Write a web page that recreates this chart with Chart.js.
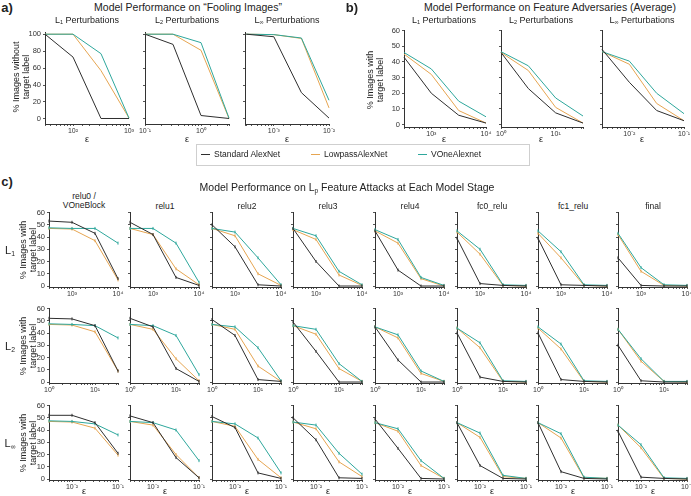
<!DOCTYPE html>
<html>
<head>
<meta charset="utf-8">
<script src="https://cdn.jsdelivr.net/npm/chart.js@4/dist/chart.umd.min.js"></script>
<style>
  body { margin: 0; background: #fff; font-family: "Liberation Sans", Arial, sans-serif; color: #222; }
  #fig { position: relative; width: 691px; height: 496px; overflow: hidden; }
  .t { position: absolute; white-space: nowrap; transform: translate(-50%, -50%); line-height: 1.1; text-align: center; }
  .rot { transform: translate(-50%, -50%) rotate(-90deg); }
  sub { font-size: 62%; vertical-align: -0.25em; line-height: 0; }
  canvas { position: absolute; }
  #legend { position: absolute; left: 196px; top: 144px; width: 332px; height: 20px; border: 1px solid #cfcfcf; }
</style>
</head>
<body>
<div id="fig"><div id="legend"></div></div>
<script>
// epsilon values (x) for each norm
const epsFoolL1 = [31.62, 100, 316.2, 1000];
const epsFoolL2 = [0.1, 0.3162, 1, 3.162];
const epsFoolLinf = [0.0003162, 0.001, 0.003162, 0.01];
const epsAttL1 = [316.2, 1000, 3162, 10000];
const epsAttL2 = [1, 3.162, 10, 31.62];
const epsAttLinf = [0.003162, 0.01, 0.03162, 0.1];

// a) fooling images, one row per norm (L1, L2, Linf)
const foolStandard = [[100, 73, 0.5, 0.5], [100, 88, 4, 0.5], [100, 97, 31, 1]];
const foolLowpass = [[100, 100, 57, 1], [100, 100, 81, 0.5], [100, 99.5, 95, 13]];
const foolVOne = [[100, 100, 77, 1], [100, 100, 90, 1], [100, 99.5, 95.5, 22]];

// b) feature adversaries (average)
const advStandard = [[43, 20, 6, 1], [46, 23, 7.5, 1], [48, 27, 9, 2.5]];
const advLowpass = [[45, 32, 9, 1], [46, 34.5, 11, 1], [46.5, 38.5, 13.5, 2.5]];
const advVOne = [[46, 35.5, 15, 5], [46.5, 37.5, 17, 5.5], [46.5, 40.5, 20, 7]];

// c) per model stage
const stages = ['relu0 /<br>VOneBlock', 'relu1', 'relu2', 'relu3', 'relu4', 'fc0_relu', 'fc1_relu', 'final'];
const c1Standard = [[53, 52, 43, 6], [52, 42, 7, 0.5], [50, 32, 1, 0], [47, 20, 0, 0], [45, 13, 0, 0], [39, 2, 0.5, 0], [39, 1, 0.5, 0], [23, 0.5, 0, 0]];
const c1Lowpass = [[47, 46.5, 37, 5], [47, 42, 14, 1], [47, 41, 10, 0.5], [46, 38, 9, 0.5], [45, 35, 6, 0], [44, 26, 0.5, 0], [43, 23, 0.5, 0], [42, 12, 0.5, 0]];
const c1VOne = [[47.5, 47, 47, 35], [47, 47, 35, 3], [47, 44, 23, 1], [47, 41, 12, 1], [46, 38, 7, 0.5], [45, 30, 1, 0.5], [45, 28, 1, 0.5], [43, 15, 1, 0.5]];
const c2Standard = [[52, 51.5, 46, 9], [52, 45, 11, 0.5], [51, 38, 2, 0.5], [49, 25, 0, 0], [45, 18, 0, 0], [40, 4, 0.5, 0], [40, 2, 0.5, 0], [30, 1, 0, 0]];
const c2Lowpass = [[47, 46.5, 41, 9], [47, 43, 19, 1], [47, 43, 13, 0.5], [46, 39, 11, 0.5], [45, 36, 7, 0.5], [44, 28, 0.5, 0], [44, 27, 0.5, 0], [43, 17, 0.5, 0]];
const c2VOne = [[47.5, 47, 46, 36], [47, 46, 38, 6], [47, 45, 28, 1], [46, 43, 15, 0.5], [45, 38.5, 9, 0.5], [44, 32, 1, 0.5], [45, 31, 1, 0.5], [43, 19, 0.5, 0.5]];
const cInfStandard = [[52, 52, 46, 21], [51.5, 46, 17.5, 1], [51, 42, 5, 0.5], [50, 32, 1, 0.5], [49, 25, 0.5, 0], [46, 11, 0.5, 0], [46, 6, 0.5, 0], [39, 1.5, 0.5, 0]];
const cInfLowpass = [[47, 46.5, 41.5, 19.5], [47, 44, 20, 1], [47, 43, 16, 1], [46.5, 41, 14, 2], [46, 39, 11, 0.5], [46, 34, 2, 0.5], [46, 33.5, 1, 0.5], [44, 25.5, 0.5, 0]];
const cInfVOne = [[47.5, 47, 45, 36], [47, 46, 40, 15], [47, 45, 33.5, 5], [46.5, 44, 21, 4], [46, 41, 15, 0.5], [46, 37.5, 3, 0.5], [46, 37, 1.5, 0.5], [44, 28, 1, 0.5]];

const colStandard = '#2e2e2e';
const colLowpass = '#e6a551';
const colVOne = '#2ea79c';

Chart.defaults.font.family = '"Liberation Sans", Arial, sans-serif';
Chart.defaults.color = '#333';

const fig = document.getElementById('fig');

function sup(n) {
    const m = { '-': '⁻', '0': '⁰', '1': '¹', '2': '²', '3': '³', '4': '⁴', '5': '⁵', '6': '⁶', '7': '⁷', '8': '⁸', '9': '⁹' };
    return String(n).split('').map(ch => m[ch]).join('');
}

function powLabel(v) {
    const l = Math.log10(v);
    if (Math.abs(l - Math.round(l)) > 1e-6) return '';
    return '10' + sup(Math.round(l));
}

function addText(html, x, y, size, extra) {
    const d = document.createElement('div');
    d.className = 't' + (extra && extra.rot ? ' rot' : '');
    d.style.left = x + 'px';
    d.style.top = y + 'px';
    d.style.fontSize = size + 'px';
    if (extra && extra.bold) d.style.fontWeight = 'bold';
    d.innerHTML = html;
    fig.appendChild(d);
}

// px,py,pw,ph = plot area on the page
function addChart(px, py, pw, ph, eps, standard, lowpass, vone, yMin, yMax, yStep, showY, caps) {
    const padL = 30, padT = 6, padR = 9, padB = 16;
    const c = document.createElement('canvas');
    c.width = pw + padL + padR;
    c.height = ph + padT + padB;
    c.style.left = (px - padL) + 'px';
    c.style.top = (py - padT) + 'px';
    fig.appendChild(c);

    const line = (vals, col) => ({
        data: eps.map((e, i) => ({ x: e, y: vals[i] })),
        borderColor: col,
        backgroundColor: col,
        borderWidth: 1,
        pointRadius: caps ? 1.5 : 0,
        pointStyle: 'line',
        pointRotation: 90,
        pointBorderWidth: 1,
        tension: 0,
        clip: false
    });

    new Chart(c, {
        type: 'line',
        data: { datasets: [line(standard, colStandard), line(vone, colVOne), line(lowpass, colLowpass)] },
        options: {
            responsive: false,
            animation: false,
            events: [],
            layout: { padding: { top: padT, right: padR, left: 0, bottom: 0 } },
            plugins: { legend: { display: false }, tooltip: { enabled: false } },
            scales: {
                x: {
                    type: 'logarithmic',
                    min: eps[0],
                    max: eps[eps.length - 1],
                    afterFit: s => { s.height = padB; },
                    border: { color: '#333', width: 1 },
                    grid: { drawOnChartArea: false, tickLength: 2, color: '#555' },
                    ticks: { autoSkip: false, maxRotation: 0, padding: 1, font: { size: 7 }, callback: v => powLabel(v) }
                },
                y: {
                    min: yMin,
                    max: yMax,
                    afterFit: s => { s.width = padL; },
                    afterBuildTicks: s => {
                        const t = [];
                        for (let v = 0; v <= yMax + 1e-9; v += yStep) t.push({ value: v });
                        s.ticks = t;
                    },
                    border: { color: '#333', width: 1 },
                    grid: { drawOnChartArea: false, tickLength: 2, color: '#555' },
                    ticks: { padding: 2, font: { size: 7.5 }, callback: v => showY ? v : '' }
                }
            }
        }
    });
}

// ---- panel a
addText('a)', 7, 8, 13, { bold: true });
addText('Model Performance on “Fooling Images”', 188, 8, 10.5);
const aX = [45, 145, 245];
const normTitles = ['L<sub>1</sub> Perturbations', 'L<sub>2</sub> Perturbations', 'L<sub>∞</sub> Perturbations'];
const foolEps = [epsFoolL1, epsFoolL2, epsFoolLinf];
for (let i = 0; i < 3; i++) {
    addChart(aX[i], 32, 84, 92, foolEps[i], foolStandard[i], foolLowpass[i], foolVOne[i], -6, 102, 20, i === 0, false);
    addText(normTitles[i], aX[i] + 42, 21, 9);
    addText('ε', aX[i] + 42, 140, 9);
}
addText('% Images without<br>target label', 22, 77, 9, { rot: true });

// ---- panel b
addText('b)', 352, 8, 13, { bold: true });
addText('Model Performance on Feature Adversaries (Average)', 550, 8, 10.5);
const bX = [404, 501, 602];
const attEps = [epsAttL1, epsAttL2, epsAttLinf];
for (let i = 0; i < 3; i++) {
    addChart(bX[i], 30, 82, 97, attEps[i], advStandard[i], advLowpass[i], advVOne[i], -1.5, 60, 10, i === 0, false);
    addText(normTitles[i], bX[i] + 40, 21, 9);
    addText('ε', bX[i] + 40, 140, 9);
}
addText('% Images with<br>target label', 376, 80, 9, { rot: true });

// legend
const legendItems = [['Standard AlexNet', colStandard, 201], ['LowpassAlexNet', colLowpass, 311], ['VOneAlexnet', colVOne, 418]];
legendItems.forEach(([name, col, x]) => {
    const l = document.createElement('div');
    l.style.cssText = `position:absolute;left:${x}px;top:154px;width:9px;height:1px;background:${col}`;
    fig.appendChild(l);
    const d = document.createElement('div');
    d.style.cssText = `position:absolute;left:${x + 13}px;top:149px;font-size:8.5px;white-space:nowrap`;
    d.textContent = name;
    fig.appendChild(d);
});

// ---- panel c
addText('c)', 7, 182, 13, { bold: true });
addText('Model Performance on L<sub>p</sub> Feature Attacks at Each Model Stage', 347, 188, 10.5);
const cX = [49, 130, 212, 293, 375, 457, 538, 618];
const cY = [212, 308, 405];
const rowLabels = ['L<sub>1</sub>', 'L<sub>2</sub>', 'L<sub>∞</sub>'];
const rowStandard = [c1Standard, c2Standard, cInfStandard];
const rowLowpass = [c1Lowpass, c2Lowpass, cInfLowpass];
const rowVOne = [c1VOne, c2VOne, cInfVOne];
for (let j = 0; j < 8; j++) {
    addText(stages[j], cX[j] + 35, j === 0 ? 201 : 207, 8.5);
}
for (let r = 0; r < 3; r++) {
    for (let j = 0; j < 8; j++) {
        addChart(cX[j], cY[r], 69, 75, attEps[r], rowStandard[r][j], rowLowpass[r][j], rowVOne[r][j], -0.8, 60, 10, j === 0, true);
        if (r === 2) addText('ε', cX[j] + 35, 492, 9);
    }
    addText(rowLabels[r], 10, cY[r] + 38, 11);
    addText('% Images with<br>target label', 29, cY[r] + 38, 9, { rot: true });
}
</script>
</body>
</html>
